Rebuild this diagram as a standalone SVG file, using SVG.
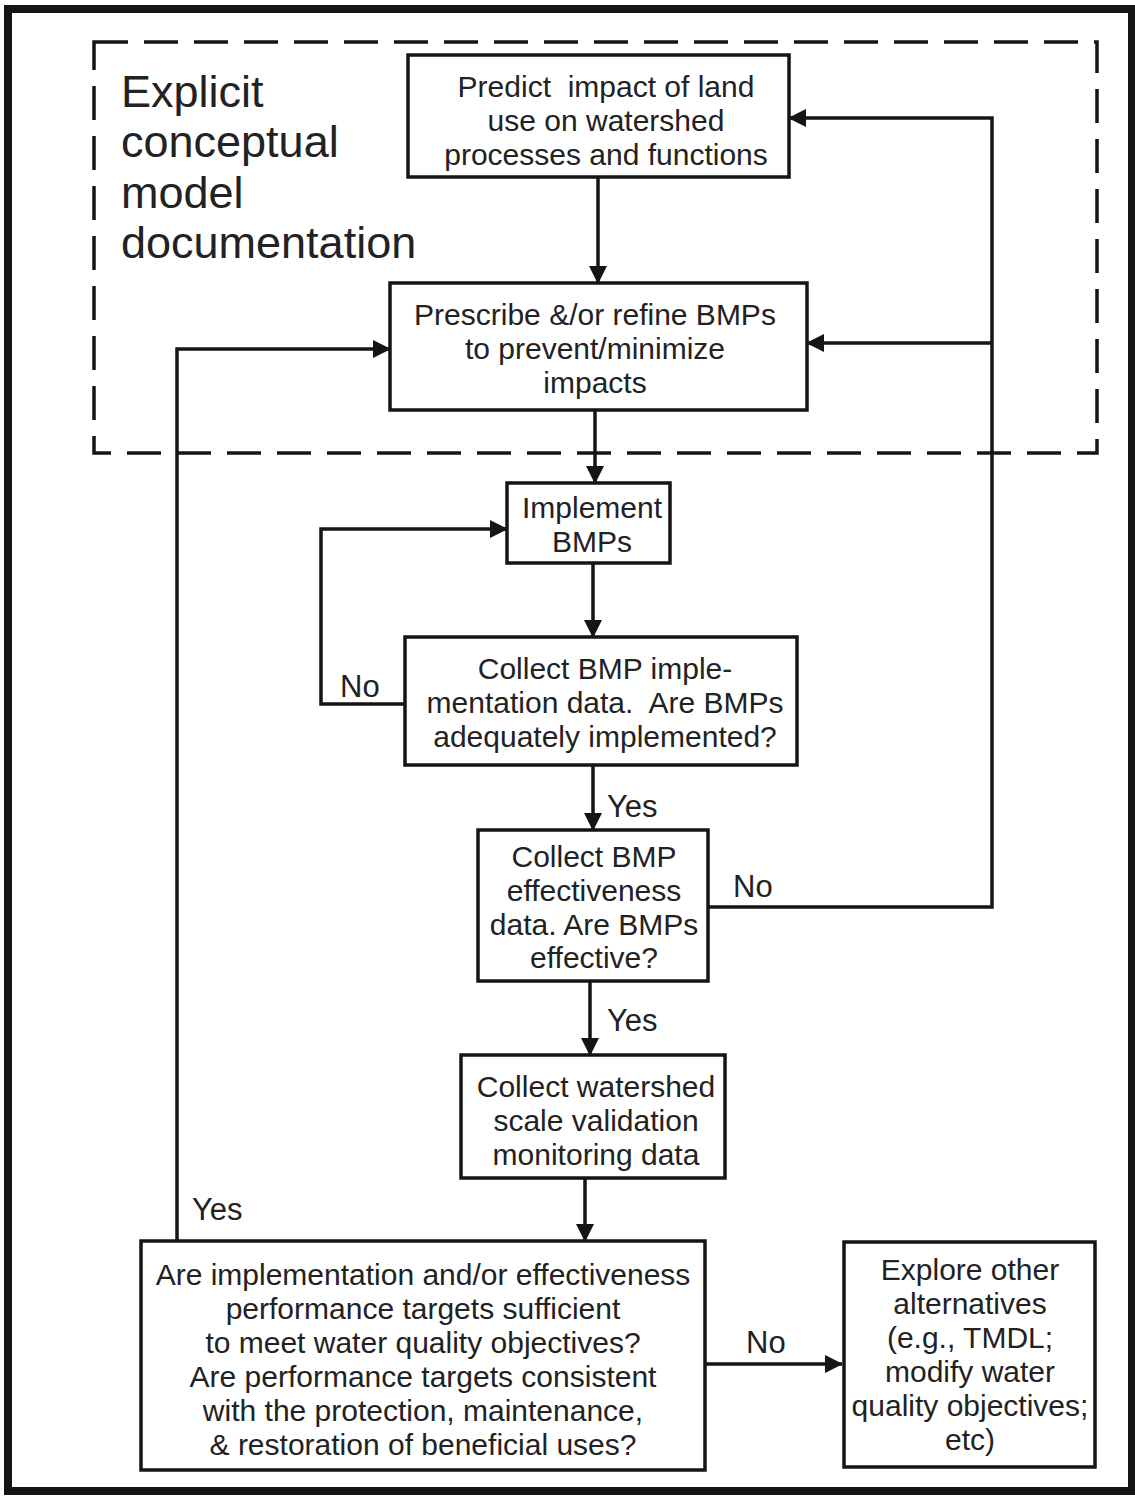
<svg xmlns="http://www.w3.org/2000/svg" width="1135" height="1496" viewBox="0 0 1135 1496">
<defs>
<marker id="arr" markerUnits="userSpaceOnUse" markerWidth="18" markerHeight="18" refX="17" refY="9" orient="auto">
<path d="M0,0 L18,9 L0,18 z" fill="#151515"/>
</marker>
<style>
.box{fill:#fff;stroke:#151515;stroke-width:3.5}
.t{font-family:"Liberation Sans",Arial,Helvetica,sans-serif;font-size:30px;fill:#222;text-anchor:middle;white-space:pre}
.lbl{font-family:"Liberation Sans",Arial,Helvetica,sans-serif;font-size:31px;fill:#222}
.big{font-family:"Liberation Sans",Arial,Helvetica,sans-serif;font-size:45px;fill:#222}
.c{fill:none;stroke:#151515;stroke-width:3.5}
</style>
</defs>
<rect x="0" y="0" width="1135" height="1496" fill="#fff"/>
<rect x="8" y="9" width="1124" height="1482" fill="none" stroke="#151515" stroke-width="8"/>
<g id="conceptual-model-region">
<rect x="94" y="42" width="1003" height="411" fill="none" stroke="#151515" stroke-width="3.5" stroke-dasharray="34 16"/>
<text class="big"><tspan x="121" y="107">Explicit</tspan><tspan x="121" y="157">conceptual</tspan><tspan x="121" y="208">model</tspan><tspan x="121" y="258">documentation</tspan></text>
</g>
<g id="connectors">
<path class="c" d="M598,177 V283" marker-end="url(#arr)"/>
<path class="c" d="M595,410 V483" marker-end="url(#arr)"/>
<path class="c" d="M593,563 V637" marker-end="url(#arr)"/>
<path class="c" d="M593,765 V830" marker-end="url(#arr)"/>
<path class="c" d="M590,981 V1055" marker-end="url(#arr)"/>
<path class="c" d="M585,1178 V1241" marker-end="url(#arr)"/>
<path class="c" d="M405,704 H321 V529 H507" marker-end="url(#arr)"/>
<path class="c" d="M708,907 H992 V118 H789" marker-end="url(#arr)"/>
<path class="c" d="M992,343 H807" marker-end="url(#arr)"/>
<path class="c" d="M177,1241 V349 H390" marker-end="url(#arr)"/>
<path class="c" d="M705,1364 H842" marker-end="url(#arr)"/>
<text class="lbl" x="340" y="697">No</text>
<text class="lbl" x="607" y="817">Yes</text>
<text class="lbl" x="733" y="897">No</text>
<text class="lbl" x="607" y="1031">Yes</text>
<text class="lbl" x="192" y="1220">Yes</text>
<text class="lbl" x="746" y="1353">No</text>
</g>
<g id="predict">
<rect class="box" x="408" y="55" width="381" height="122"/>
<text class="t" xml:space="preserve"><tspan x="606" y="97">Predict  impact of land</tspan><tspan x="606" y="131">use on watershed</tspan><tspan x="606" y="165">processes and functions</tspan></text>
</g>
<g id="prescribe">
<rect class="box" x="390" y="283" width="417" height="127"/>
<text class="t"><tspan x="595" y="325">Prescribe &amp;/or refine BMPs</tspan><tspan x="595" y="359">to prevent/minimize</tspan><tspan x="595" y="393">impacts</tspan></text>
</g>
<g id="implement">
<rect class="box" x="507" y="483" width="163" height="80"/>
<text class="t"><tspan x="592" y="518">Implement</tspan><tspan x="592" y="552">BMPs</tspan></text>
</g>
<g id="collect-implementation">
<rect class="box" x="405" y="637" width="392" height="128"/>
<text class="t" xml:space="preserve"><tspan x="605" y="679">Collect BMP imple-</tspan><tspan x="605" y="713">mentation data.  Are BMPs</tspan><tspan x="605" y="747">adequately implemented?</tspan></text>
</g>
<g id="collect-effectiveness">
<rect class="box" x="478" y="830" width="230" height="151"/>
<text class="t"><tspan x="594" y="867">Collect BMP</tspan><tspan x="594" y="901">effectiveness</tspan><tspan x="594" y="935">data. Are BMPs</tspan><tspan x="594" y="968">effective?</tspan></text>
</g>
<g id="collect-watershed">
<rect class="box" x="461" y="1055" width="264" height="123"/>
<text class="t"><tspan x="596" y="1097">Collect watershed</tspan><tspan x="596" y="1131">scale validation</tspan><tspan x="596" y="1165">monitoring data</tspan></text>
</g>
<g id="targets-question">
<rect class="box" x="141" y="1241" width="564" height="229"/>
<text class="t"><tspan x="423" y="1285">Are implementation and/or effectiveness</tspan><tspan x="423" y="1319">performance targets sufficient</tspan><tspan x="423" y="1353">to meet water quality objectives?</tspan><tspan x="423" y="1387">Are performance targets consistent</tspan><tspan x="423" y="1421">with the protection, maintenance,</tspan><tspan x="423" y="1455">&amp; restoration of beneficial uses?</tspan></text>
</g>
<g id="explore-alternatives">
<rect class="box" x="844" y="1242" width="251" height="225"/>
<text class="t"><tspan x="970" y="1280">Explore other</tspan><tspan x="970" y="1314">alternatives</tspan><tspan x="970" y="1348">(e.g., TMDL;</tspan><tspan x="970" y="1382">modify water</tspan><tspan x="970" y="1416">quality objectives;</tspan><tspan x="970" y="1450">etc)</tspan></text>
</g>
</svg>
